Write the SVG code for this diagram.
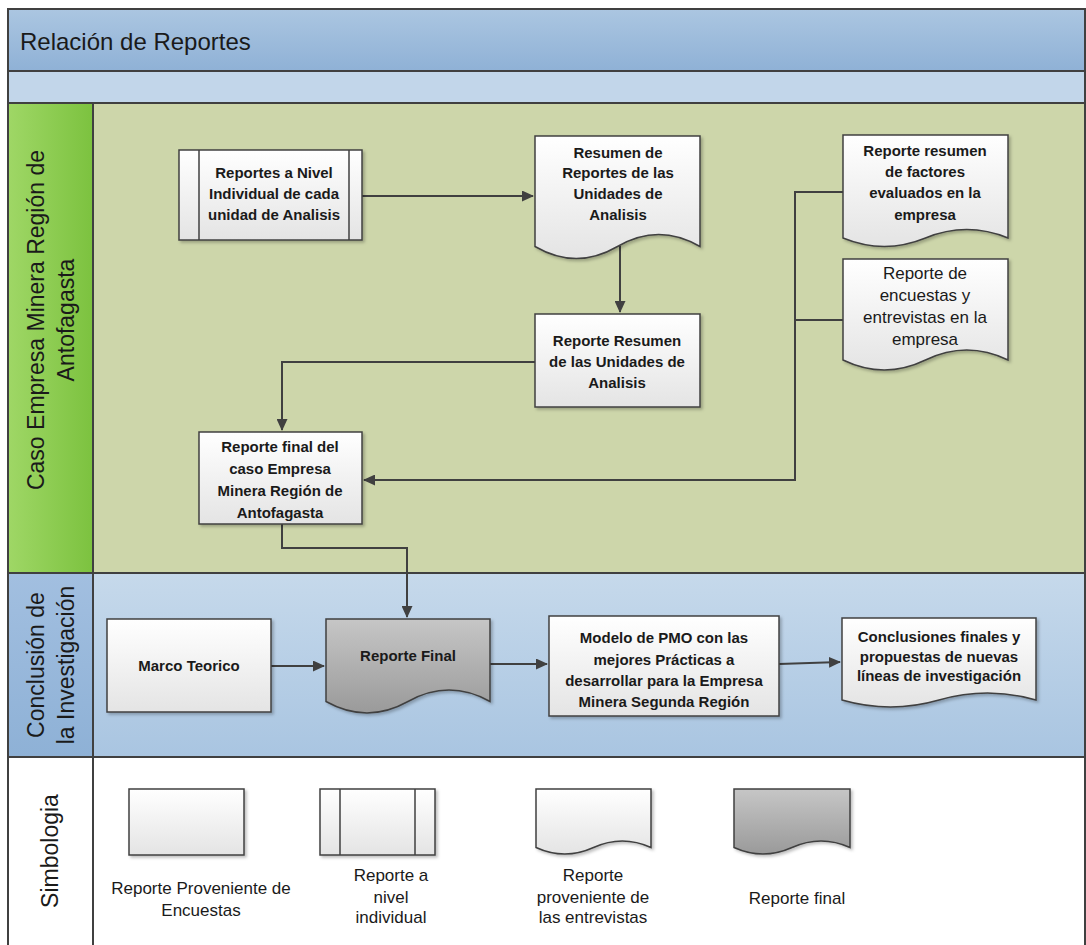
<svg xmlns="http://www.w3.org/2000/svg" width="1086" height="945" viewBox="0 0 1086 945">
<defs>
<linearGradient id="gHdr" x1="0" y1="0" x2="0" y2="1"><stop offset="0" stop-color="#abc6e1"/><stop offset="1" stop-color="#8fb1d6"/></linearGradient>
<linearGradient id="gGreen" x1="0" y1="0" x2="1" y2="0"><stop offset="0" stop-color="#9fd766"/><stop offset="1" stop-color="#7cc23f"/></linearGradient>
<linearGradient id="gBlue" x1="0" y1="0" x2="0" y2="1"><stop offset="0" stop-color="#c6d9eb"/><stop offset="1" stop-color="#a9c5e1"/></linearGradient>
<linearGradient id="gBlueLbl" x1="0" y1="0" x2="0" y2="1"><stop offset="0" stop-color="#a2bfe0"/><stop offset="1" stop-color="#8eb1d6"/></linearGradient>
<linearGradient id="gNode" x1="0" y1="0" x2="0" y2="1"><stop offset="0" stop-color="#ffffff"/><stop offset="1" stop-color="#e4e4e4"/></linearGradient>
<linearGradient id="gGray" x1="0" y1="0" x2="0" y2="1"><stop offset="0" stop-color="#c6c6c6"/><stop offset="1" stop-color="#9a9a9a"/></linearGradient>
<filter id="sh" x="-10%" y="-10%" width="130%" height="130%"><feDropShadow dx="2" dy="2" stdDeviation="1.5" flood-color="#000" flood-opacity="0.25"/></filter>
<marker id="arr" markerWidth="12" markerHeight="11" refX="11" refY="5.5" orient="auto" markerUnits="userSpaceOnUse"><path d="M0,0 L12,5.5 L0,11 Z" fill="#404040"/></marker>
</defs>
<style>
.frame{fill:none;stroke:#404040;stroke-width:2}
.node{fill:url(#gNode);stroke:#404040;stroke-width:1.5;filter:url(#sh)}
.gray{fill:url(#gGray);stroke:#404040;stroke-width:1.5;filter:url(#sh)}
.in{stroke:#404040;stroke-width:1.5}
.t{font-family:"Liberation Sans",Arial,sans-serif;font-size:15px;font-weight:bold;fill:#1a1a1a;text-anchor:middle}
.r{font-family:"Liberation Sans",Arial,sans-serif;font-size:17px;fill:#1a1a1a;text-anchor:middle}
.lane{font-family:"Liberation Sans",Arial,sans-serif;font-size:23px;fill:#1a1a1a;text-anchor:middle}
.conn{fill:none;stroke:#404040;stroke-width:2}
</style>

<g id="lanes">
<rect x="8" y="9" width="1077" height="62" fill="url(#gHdr)"/>
<rect x="8" y="71" width="1077" height="32" fill="#c2d6ea"/>
<rect x="8" y="103" width="85" height="470" fill="url(#gGreen)"/>
<rect x="93" y="103" width="992" height="470" fill="#cdd6aa"/>
<rect x="8" y="573" width="85" height="184" fill="url(#gBlueLbl)"/>
<rect x="93" y="573" width="992" height="184" fill="url(#gBlue)"/>
<rect x="8" y="757" width="1077" height="190" fill="#ffffff"/>
<path class="frame" d="M8,71 H1085 M8,103 H1085 M8,573 H1085 M8,757 H1085 M93,103 V945"/>
<rect class="frame" x="8" y="9" width="1077" height="940"/>
<text x="20" y="50" font-family="'Liberation Sans',Arial,sans-serif" font-size="24" fill="#1a1a1a">Relación de Reportes</text>
<text class="lane" transform="translate(50 320) rotate(-90)"><tspan x="0" y="-6">Caso Empresa Minera Región de</tspan><tspan x="0" y="24">Antofagasta</tspan></text>
<text class="lane" font-size="24" transform="translate(50 665) rotate(-90)"><tspan x="0" y="-6">Conclusión de</tspan><tspan x="0" y="24">la Investigación</tspan></text>
<text class="lane" font-size="22" transform="translate(50 851) rotate(-90)"><tspan x="0" y="8">Simbologia</tspan></text>
</g>

<g id="connectors">
<path class="conn" d="M362,196 H533" marker-end="url(#arr)"/>
<path class="conn" d="M620,246 V312" marker-end="url(#arr)"/>
<path class="conn" d="M535,362 H282 V430" marker-end="url(#arr)"/>
<path class="conn" d="M843,192 H795 V480 H364" marker-end="url(#arr)"/>
<path class="conn" d="M843,320 H795"/>
<path class="conn" d="M282,524 V548 H407 V617" marker-end="url(#arr)"/>
<path class="conn" d="M271,666 H324" marker-end="url(#arr)"/>
<path class="conn" d="M490,664 H547" marker-end="url(#arr)"/>
<path class="conn" d="M779,664 L840,662" marker-end="url(#arr)"/>
</g>

<g id="n1">
<rect class="node" x="179" y="150" width="183" height="90"/>
<path class="in" d="M199,150 V240 M349,150 V240"/>
<text class="t"><tspan x="274" y="178">Reportes a Nivel</tspan><tspan x="274" y="199">Individual de cada</tspan><tspan x="274" y="220">unidad de Analisis</tspan></text>
</g>
<g id="n2">
<path class="node" d="M535,136 H700 V246.5 C672.4,230.5 645,230.5 617.5,246.5 C590,262.5 562.6,262.5 535,246.5 Z"/>
<text class="t"><tspan x="618" y="158">Resumen de</tspan><tspan x="618" y="178">Reportes de las</tspan><tspan x="618" y="199">Unidades de</tspan><tspan x="618" y="220">Analisis</tspan></text>
</g>
<g id="n3">
<rect class="node" x="535" y="314" width="165" height="93"/>
<text class="t"><tspan x="617" y="346">Reporte Resumen</tspan><tspan x="617" y="367">de las Unidades de</tspan><tspan x="617" y="388">Analisis</tspan></text>
</g>
<g id="n4">
<rect class="node" x="199" y="432" width="163" height="92"/>
<text class="t"><tspan x="280" y="452">Reporte final del</tspan><tspan x="280" y="474">caso Empresa</tspan><tspan x="280" y="496">Minera Región de</tspan><tspan x="280" y="518">Antofagasta</tspan></text>
</g>
<g id="n5">
<path class="node" d="M843,135 H1008 V238 C980.4,226.7 953,226.7 925.5,238 C898,249.3 870.6,249.3 843,238 Z"/>
<text class="t"><tspan x="925" y="156">Reporte resumen</tspan><tspan x="925" y="177">de factores</tspan><tspan x="925" y="198">evaluados en la</tspan><tspan x="925" y="220">empresa</tspan></text>
</g>
<g id="n6">
<path class="node" d="M843,259 H1008 V360 C980.4,346.7 953,346.7 925.5,360 C898,373.3 870.6,373.3 843,360 Z"/>
<text class="r"><tspan x="925" y="279">Reporte de</tspan><tspan x="925" y="301">encuestas y</tspan><tspan x="925" y="323">entrevistas en la</tspan><tspan x="925" y="345">empresa</tspan></text>
</g>
<g id="n7">
<rect class="node" x="107" y="619" width="164" height="93"/>
<text class="t" x="189" y="671">Marco Teorico</text>
</g>
<g id="n8">
<path class="gray" d="M326,619 H490 V701.5 C462.6,686.2 435.4,686.2 408,701.5 C380.6,716.8 353.4,716.8 326,701.5 Z"/>
<text class="t" x="408" y="661">Reporte Final</text>
</g>
<g id="n9">
<rect class="node" x="549" y="616" width="230" height="100"/>
<text class="t"><tspan x="664" y="643">Modelo de PMO con las</tspan><tspan x="664" y="665">mejores Prácticas a</tspan><tspan x="664" y="686">desarrollar para la Empresa</tspan><tspan x="664" y="707">Minera Segunda Región</tspan></text>
</g>
<g id="n10">
<path class="node" d="M842,618 H1036 V700 C1003.7,690.7 971.3,690.7 939,700 C906.7,709.3 874.3,709.3 842,700 Z"/>
<text class="t"><tspan x="939" y="642">Conclusiones finales y</tspan><tspan x="939" y="662">propuestas de nuevas</tspan><tspan x="939" y="681">líneas de investigación</tspan></text>
</g>

<g id="legend">
<rect class="node" x="129" y="789" width="115" height="66"/>
<rect class="node" x="320" y="789" width="115" height="66"/>
<path class="in" d="M340,789 V855 M415,789 V855"/>
<path class="node" d="M536,789 H651 V847.5 C631.8,838.8 612.7,838.8 593.5,847.5 C574.3,856.2 555.2,856.2 536,847.5 Z"/>
<path class="gray" d="M734,789 H850 V847.5 C830.6,838.8 811.4,838.8 792,847.5 C772.6,856.2 753.4,856.2 734,847.5 Z"/>
<text class="r"><tspan x="201" y="894">Reporte Proveniente de</tspan><tspan x="201" y="916">Encuestas</tspan></text>
<text class="r"><tspan x="391" y="881">Reporte a</tspan><tspan x="391" y="903">nivel</tspan><tspan x="391" y="923">individual</tspan></text>
<text class="r"><tspan x="593" y="881">Reporte</tspan><tspan x="593" y="903">proveniente de</tspan><tspan x="593" y="923">las entrevistas</tspan></text>
<text class="r" x="797" y="904">Reporte final</text>
</g>
</svg>
